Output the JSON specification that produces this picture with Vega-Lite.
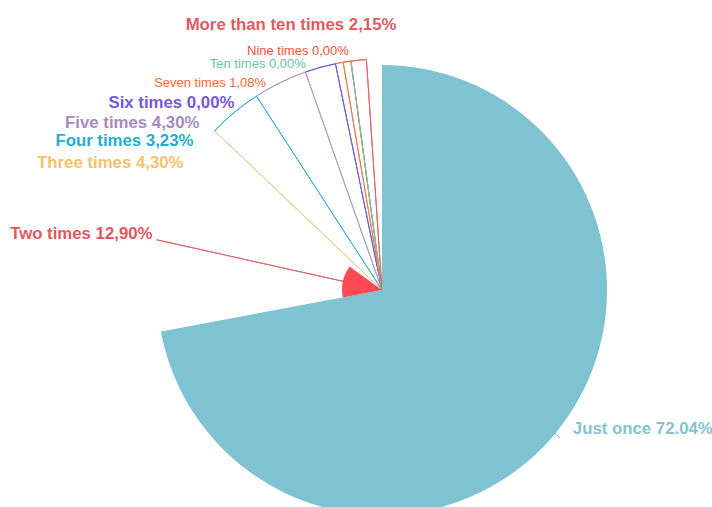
{
  "$schema": "https://vega.github.io/schema/vega-lite/v6.json",
  "width": 660,
  "height": 434,
  "padding": {"left": 52, "top": 73, "right": 0, "bottom": 0},
  "autosize": {"type": "none"},
  "background": "white",
  "view": {"stroke": null},
  "config": {"text": {"font": "Liberation Sans"}},
  "data": {
    "values": [
      {"order": 1, "name": "Just once", "value": 72.04, "caption": "Just once 72.04%"},
      {"order": 2, "name": "Two times", "value": 12.90, "caption": "Two times 12,90%"},
      {"order": 3, "name": "Three times", "value": 4.30, "caption": "Three times 4,30%"},
      {"order": 4, "name": "Four times", "value": 3.23, "caption": "Four times 3,23%"},
      {"order": 5, "name": "Five times", "value": 4.30, "caption": "Five times 4,30%"},
      {"order": 6, "name": "Six times", "value": 0.00, "caption": "Six times 0,00%"},
      {"order": 7, "name": "Seven times", "value": 1.08, "caption": "Seven times 1,08%"},
      {"order": 8, "name": "Nine times", "value": 0.00, "caption": "Nine times 0,00%"},
      {"order": 9, "name": "Ten times", "value": 0.00, "caption": "Ten times 0,00%"},
      {"order": 10, "name": "More than ten times", "value": 2.15, "caption": "More than ten times 2,15%"}
    ]
  },
  "transform": [
    {"stack": "value", "groupby": [], "sort": [{"field": "order", "order": "ascending"}], "as": ["s", "e"]},
    {"fold": ["s", "e"], "as": ["k", "v"]},
    {"aggregate": [{"op": "mean", "field": "v", "as": "mid"}], "groupby": ["order", "name", "caption", "value", "s", "e"]}
  ],
  "layer": [
    {
      "mark": {"type": "arc", "outerRadius": 231, "innerRadius": 0, "fill": "transparent", "strokeWidth": 1},
      "encoding": {
        "theta": {"field": "mid", "type": "quantitative", "stack": null, "scale": {"domain": [0, 100], "range": [0, 6.283185307179586]}},
        "theta2": {"field": "mid"},
        "stroke": {
          "field": "name", "type": "nominal", "legend": null,
          "scale": {
            "domain": ["Just once", "Two times", "Three times", "Four times", "Five times", "Six times", "Seven times", "Nine times", "Ten times", "More than ten times"],
            "range": ["#86c2d0", "#e0666b", "#e9c88e", "#3ab0d2", "#ae9bc6", "#6e58d8", "#f27a45", "#ff6040", "#72c49c", "#e06468"]
          }
        }
      }
    },
    {
      "transform": [
        {"window": [{"op": "lag", "field": "mid", "as": "prevMid"}], "sort": [{"field": "order", "order": "ascending"}]},
        {"filter": "datum.order >= 4"}
      ],
      "mark": {"type": "arc", "outerRadius": 231, "innerRadius": 231, "fill": "transparent", "strokeWidth": 1},
      "encoding": {
        "theta": {"field": "prevMid", "type": "quantitative", "stack": null},
        "theta2": {"field": "mid"},
        "stroke": {"field": "name", "type": "nominal", "legend": null}
      }
    },
    {
      "mark": {"type": "arc"},
      "encoding": {
        "theta": {"field": "s", "type": "quantitative", "stack": null},
        "theta2": {"field": "e"},
        "radius": {"field": "value", "type": "quantitative", "scale": {"domain": [0, 4.3, 12.9, 72.04], "range": [0, 4, 40, 225], "nice": false}},
        "fill": {
          "field": "name", "type": "nominal", "legend": null,
          "scale": {
            "domain": ["Just once", "Two times", "Three times", "Four times", "Five times", "Six times", "Seven times", "Nine times", "Ten times", "More than ten times"],
            "range": ["#7fc2d1", "#ff4a55", "#f5c26b", "#1fadd4", "#a58bbd", "#7559d9", "#ff6633", "#ff5030", "#66c79a", "#e05a5f"]
          }
        }
      }
    },
    {
      "transform": [{"filter": "datum.name === 'Just once'"}],
      "mark": {"type": "text", "radius": 231, "align": "left", "baseline": "middle", "dx": 13, "dy": -8, "fontSize": 16.8, "fontWeight": "bold"},
      "encoding": {"theta": {"field": "mid", "type": "quantitative", "stack": null}, "text": {"field": "caption"}, "color": {"field": "name", "type": "nominal", "legend": null, "scale": {"domain": ["Just once", "Two times", "Three times", "Four times", "Five times", "Six times", "Seven times", "Nine times", "Ten times", "More than ten times"], "range": ["#86c2d0", "#e0575e", "#f5c26b", "#1fadd4", "#a58bbd", "#7559d9", "#ff6633", "#ff5030", "#66c79a", "#e05a5f"]}}}
    },
    {
      "transform": [{"filter": "datum.name === 'Two times'"}],
      "mark": {"type": "text", "radius": 231, "align": "right", "baseline": "middle", "dx": -4, "dy": -6, "fontSize": 16.8, "fontWeight": "bold"},
      "encoding": {"theta": {"field": "mid", "type": "quantitative", "stack": null}, "text": {"field": "caption"}, "color": {"field": "name", "type": "nominal", "legend": null}}
    },
    {
      "transform": [{"filter": "datum.name === 'Three times'"}],
      "mark": {"type": "text", "radius": 231, "align": "right", "baseline": "middle", "dx": -31, "dy": 32, "fontSize": 16.8, "fontWeight": "bold"},
      "encoding": {"theta": {"field": "mid", "type": "quantitative", "stack": null}, "text": {"field": "caption"}, "color": {"field": "name", "type": "nominal", "legend": null}}
    },
    {
      "transform": [{"filter": "datum.name === 'Four times'"}],
      "mark": {"type": "text", "radius": 231, "align": "right", "baseline": "middle", "dx": -63, "dy": 45, "fontSize": 16.8, "fontWeight": "bold"},
      "encoding": {"theta": {"field": "mid", "type": "quantitative", "stack": null}, "text": {"field": "caption"}, "color": {"field": "name", "type": "nominal", "legend": null}}
    },
    {
      "transform": [{"filter": "datum.name === 'Five times'"}],
      "mark": {"type": "text", "radius": 231, "align": "right", "baseline": "middle", "dx": -106, "dy": 51, "fontSize": 16.8, "fontWeight": "bold"},
      "encoding": {"theta": {"field": "mid", "type": "quantitative", "stack": null}, "text": {"field": "caption"}, "color": {"field": "name", "type": "nominal", "legend": null}}
    },
    {
      "transform": [{"filter": "datum.name === 'Six times'"}],
      "mark": {"type": "text", "radius": 231, "align": "right", "baseline": "middle", "dx": -101, "dy": 39, "fontSize": 16.8, "fontWeight": "bold"},
      "encoding": {"theta": {"field": "mid", "type": "quantitative", "stack": null}, "text": {"field": "caption"}, "color": {"field": "name", "type": "nominal", "legend": null}}
    },
    {
      "transform": [{"filter": "datum.name === 'Seven times'"}],
      "mark": {"type": "text", "radius": 231, "align": "right", "baseline": "middle", "dx": -77, "dy": 21, "fontSize": 13},
      "encoding": {"theta": {"field": "mid", "type": "quantitative", "stack": null}, "text": {"field": "caption"}, "color": {"field": "name", "type": "nominal", "legend": null}}
    },
    {
      "transform": [{"filter": "datum.name === 'Nine times'"}],
      "mark": {"type": "text", "radius": 231, "align": "right", "baseline": "middle", "dx": -2, "dy": -10, "fontSize": 13},
      "encoding": {"theta": {"field": "mid", "type": "quantitative", "stack": null}, "text": {"field": "caption"}, "color": {"field": "name", "type": "nominal", "legend": null}}
    },
    {
      "transform": [{"filter": "datum.name === 'Ten times'"}],
      "mark": {"type": "text", "radius": 231, "align": "right", "baseline": "middle", "dx": -45, "dy": 3, "fontSize": 13},
      "encoding": {"theta": {"field": "mid", "type": "quantitative", "stack": null}, "text": {"field": "caption"}, "color": {"field": "name", "type": "nominal", "legend": null}}
    },
    {
      "transform": [{"filter": "datum.name === 'More than ten times'"}],
      "mark": {"type": "text", "radius": 231, "align": "right", "baseline": "middle", "dx": 30, "dy": -35, "fontSize": 16.8, "fontWeight": "bold"},
      "encoding": {"theta": {"field": "mid", "type": "quantitative", "stack": null}, "text": {"field": "caption"}, "color": {"field": "name", "type": "nominal", "legend": null}}
    }
  ]
}
